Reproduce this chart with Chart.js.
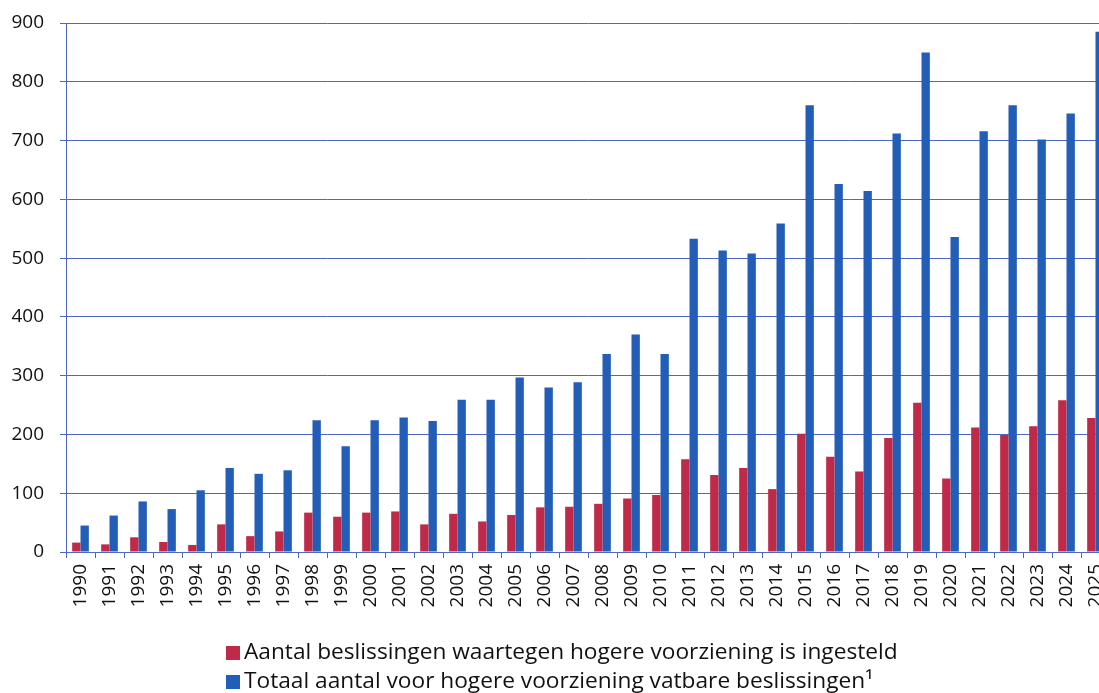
<!DOCTYPE html>
<html>
<head>
<meta charset="utf-8">
<script src="https://cdn.jsdelivr.net/npm/chart.js@4"></script>
<style>
  body { margin: 0; overflow: hidden; background: #fff; width: 1099px; height: 693px; }
  #chart { position: absolute; left: 0; top: 0; }
  #legend { position: absolute; left: 226px; top: 636px; font-family: "Open Sans", sans-serif; font-size: 22.7px; color: #111; }
  .row { height: 29px; line-height: 29px; white-space: nowrap; }
  .box { display: inline-block; width: 14px; height: 14px; margin-right: 4px; vertical-align: -1px; }
</style>
</head>
<body>
<canvas id="chart" width="1110" height="640"></canvas>
<div id="legend"></div>
<script>
var years = [];
for (var y = 1990; y <= 2025; y++) years.push(String(y));

var ingesteld = [16, 13, 25, 17, 12, 47, 27, 35, 67, 60,
  67, 69, 47, 65, 52, 63, 76, 77, 82, 91,
  97, 158, 131, 143, 107, 201, 162, 137, 194, 254,
  125, 212, 199, 214, 258, 228];

var vatbaar = [45, 62, 86, 73, 105, 143, 133, 139, 224, 180,
  224, 229, 223, 259, 259, 297, 280, 289, 337, 370,
  337, 533, 513, 508, 559, 760, 626, 614, 712, 850,
  536, 716, 760, 702, 746, 885];

var labelRed = "Aantal beslissingen waartegen hogere voorziening is ingesteld";
var labelBlue = "Totaal aantal voor hogere voorziening vatbare beslissingen\u00B9";

var red = "#BF2A48";
var blue = "#225DB8";
var lineColor = "#4D68C2";

var chart = new Chart("chart", {
  type: "bar",
  data: {
    labels: years,
    datasets: [
      { label: labelRed, data: ingesteld, backgroundColor: red },
      { label: labelBlue, data: vatbaar, backgroundColor: blue }
    ]
  },
  options: {
    responsive: false,
    animation: false,
    layout: { padding: { top: 23, left: 0, right: 0, bottom: 0 } },
    datasets: {
      bar: { categoryPercentage: 0.575, barPercentage: 1.0 }
    },
    plugins: {
      legend: { display: false },
      tooltip: { enabled: false }
    },
    scales: {
      x: {
        grid: { drawOnChartArea: false, drawTicks: true, tickLength: 6, color: lineColor, offset: true },
        border: { display: true, color: lineColor, width: 1 },
        ticks: {
          autoSkip: false, minRotation: 90, maxRotation: 90, padding: 6,
          color: "#111", font: { family: "Open Sans", size: 19 }
        },
        afterFit: function (s) {
          s.height = 88;
          s.paddingLeft = 0;
          s.paddingRight = 0;
        }
      },
      y: {
        min: 0, max: 900,
        grid: { color: lineColor, tickLength: 6, lineWidth: 1 },
        border: { display: true, color: lineColor, width: 1 },
        ticks: {
          stepSize: 100, padding: 16,
          color: "#111", font: { family: "Open Sans", size: 19 }
        },
        afterFit: function (s) {
          s.width = 66;
          s.paddingTop = 0;
          s.paddingBottom = 0;
        }
      }
    }
  }
});

// legend as text, built from the datasets
var legend = document.getElementById("legend");
chart.data.datasets.forEach(function (ds) {
  var row = document.createElement("div");
  row.className = "row";
  var box = document.createElement("span");
  box.className = "box";
  box.style.background = ds.backgroundColor;
  row.appendChild(box);
  row.appendChild(document.createTextNode(ds.label));
  legend.appendChild(row);
});
</script>
</body>
</html>
